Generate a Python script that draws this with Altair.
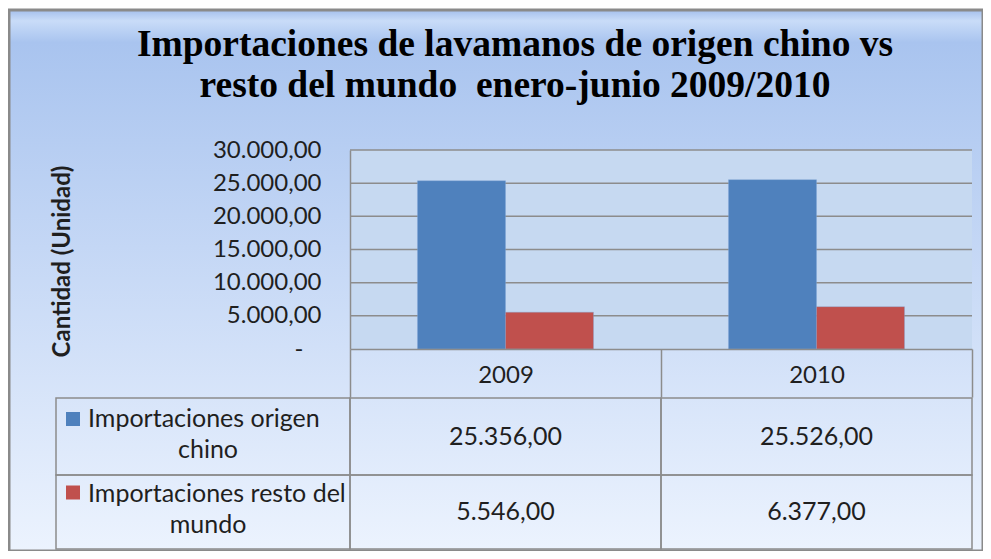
import altair as alt
import pandas as pd

# ---------------- data ----------------
title_lines = ["Importaciones de lavamanos de origen chino vs",
               "resto del mundo\u00a0 enero-junio 2009/2010"]
y_title = "Cantidad (Unidad)"
years = ["2009", "2010"]
series = ["Importaciones origen chino", "Importaciones resto del mundo"]
china_values = [25356, 25526]
rest_values = [5546, 6377]
y_ticks = [0, 5000, 10000, 15000, 20000, 25000, 30000]
colors = ["#4f81bd", "#c0504d"]

# ---------------- tables built from the lists ----------------
bar_rows = []
for s_i, (s, vals) in enumerate(zip(series, [china_values, rest_values])):
    for c_i, (yr, v) in enumerate(zip(years, vals)):
        bar_rows.append({"serie": s, "anio": yr, "valor": v, "fila": s_i, "col": c_i + 1})
bars_df = pd.DataFrame(bar_rows)

grid_df = pd.DataFrame([{"anio": yr, "tick": t} for t in y_ticks[1:] for yr in years])
years_df = pd.DataFrame({"anio": years})
cells_df = pd.DataFrame([{"fila": r, "col": c} for r in range(len(series)) for c in range(len(years) + 1)])
series_df = pd.DataFrame({"serie": series, "fila": list(range(len(series)))})

# ---------------- styling ----------------
TXT = "#1f1f1f"
LINE = "#8c8c8c"
FONT = "Lato"

x_scale = alt.Scale(domain=years, range=[341, 963], paddingInner=0, paddingOuter=0)
y_scale = alt.Scale(domain=[0, 30000], range=[339, 140], nice=False, zero=False)

x_axis = alt.Axis(orient="bottom", offset=-202, title=None, grid=False, zindex=1,
                  domainColor=LINE, domainWidth=1.5,
                  tickColor=LINE, tickWidth=1.5, tickSize=48, tickBand="extent",
                  labelFont=FONT, labelFontSize=24, labelColor=TXT, labelAngle=0,
                  labelBaseline="middle", labelPadding=-22)
y_axis = alt.Axis(orient="left", offset=-341, values=y_ticks, grid=False, zindex=1,
                  domainColor=LINE, domainWidth=1.5, ticks=False, tickSize=0,
                  labelPadding=29, labelFont=FONT, labelFontSize=24, labelColor=TXT,
                  format=",.2f",
                  labelExpr="datum.value === 0 ? '-\u2800' : datum.label",
                  title=y_title, titleFont=FONT, titleFontSize=24, titleFontWeight="bold",
                  titleColor=TXT, titleX=-288, titleY=251, titleAngle=270,
                  titleAlign="center", titleBaseline="middle")

X = alt.X("anio:N", scale=x_scale, axis=x_axis)

plot_bg = alt.Chart(years_df).mark_rect(fill="#c6d9f1").encode(
    x=X,
    y=alt.Y(datum=0, scale=y_scale, axis=y_axis),
    y2=alt.Y2(datum=30000),
)

grid = alt.Chart(grid_df).mark_tick(color=LINE, thickness=1.5, size=311, opacity=1).encode(
    x=X,
    y=alt.Y("tick:Q", scale=y_scale, axis=y_axis),
)

bars = alt.Chart(bars_df).mark_bar(stroke="#7fa3d6", strokeWidth=0.6, strokeOpacity=0.6).encode(
    x=X,
    xOffset=alt.XOffset("serie:N", sort=series,
                        scale=alt.Scale(domain=series, paddingInner=0, paddingOuter=0.767)),
    y=alt.Y("valor:Q", scale=y_scale, axis=y_axis),
    color=alt.Color("serie:N", sort=series,
                    scale=alt.Scale(domain=series, range=colors),
                    legend=alt.Legend(orient="none", legendX=57, legendY=402, title=None,
                                      symbolType="square", symbolSize=196, symbolStrokeWidth=0,
                                      labelFontSize=1, labelOpacity=0, rowPadding=59.5,
                                      padding=0, direction="vertical")),
)

plot = alt.layer(plot_bg, grid, bars)

# ---------------- data table below ----------------
tx = alt.Scale(domain=[0, 1, 3], range=[47, 341, 963], zero=False, nice=False)
ty = alt.Scale(domain=[0, 1, 2], range=[388, 465, 539], zero=False, nice=False)

cells = alt.Chart(cells_df).transform_calculate(
    col2="datum.col + 1", fila2="datum.fila + 1"
).mark_rect(filled=False, stroke=LINE, strokeWidth=1.5).encode(
    x=alt.X("col:Q", scale=tx, axis=None),
    x2="col2:Q",
    y=alt.Y("fila:Q", scale=ty, axis=None),
    y2="fila2:Q",
)

split = dict(
    l1="slice(datum.serie, 0, lastindexof(datum.serie, ' '))",
    l2="slice(datum.serie, lastindexof(datum.serie, ' ') + 1)",
    cx0="0", cxm="0.5", cy="datum.fila + 0.5",
)

head1 = alt.Chart(series_df).transform_calculate(**split).mark_text(
    align="left", baseline="alphabetic", dx=32, dy=-10,
    font=FONT, fontSize=25, color=TXT,
).encode(
    x=alt.X("cx0:Q", scale=tx, axis=None),
    y=alt.Y("cy:Q", scale=ty, axis=None),
    text="l1:N",
)

head2 = alt.Chart(series_df).transform_calculate(**split).mark_text(
    align="center", baseline="alphabetic", dx=5, dy=21,
    font=FONT, fontSize=25, color=TXT,
).encode(
    x=alt.X("cxm:Q", scale=tx, axis=None),
    y=alt.Y("cy:Q", scale=ty, axis=None),
    text="l2:N",
)

vals = alt.Chart(bars_df).transform_calculate(
    cx="datum.col + 0.5", cy="datum.fila + 0.5"
).mark_text(
    align="center", baseline="alphabetic", dy=8,
    font=FONT, fontSize=25, color=TXT,
).encode(
    x=alt.X("cx:Q", scale=tx, axis=None),
    y=alt.Y("cy:Q", scale=ty, axis=None),
    text=alt.Text("valor:Q", format=",.2f"),
)

table = alt.layer(cells, head1, head2, vals)

frame_gradient = ("{gradient: 'linear', x1: 0, y1: 0, x2: 0, y2: 1, stops: ["
                  "{offset: 0, color: '#a4bfec'}, {offset: 0.02, color: '#c9dcf8'}, "
                  "{offset: 0.06, color: '#a9c4ef'}, {offset: 1, color: '#ecf3fe'}]}")

chart = alt.layer(plot, table).resolve_scale(
    x="independent", y="independent"
).properties(
    width=974, height=541,
    autosize=alt.AutoSizeParams(type="none"),
    padding={"left": 1, "top": 2, "right": 0, "bottom": 0},
    title=alt.TitleParams(text=title_lines, font="Liberation Serif", fontSize=37.5,
                          fontWeight="bold", color="black", anchor="middle",
                          frame="group", offset=-94, dx=19, lineHeight=41),
).configure_view(
    fill={"expr": frame_gradient},
    stroke="#8a8a8a", strokeWidth=3,
)

chart.save("out.html", embed_options={
    "renderer": "svg", "actions": False,
    "formatLocale": {"decimal": ",", "thousands": ".", "grouping": [3],
                     "currency": ["", " €"]},
})
